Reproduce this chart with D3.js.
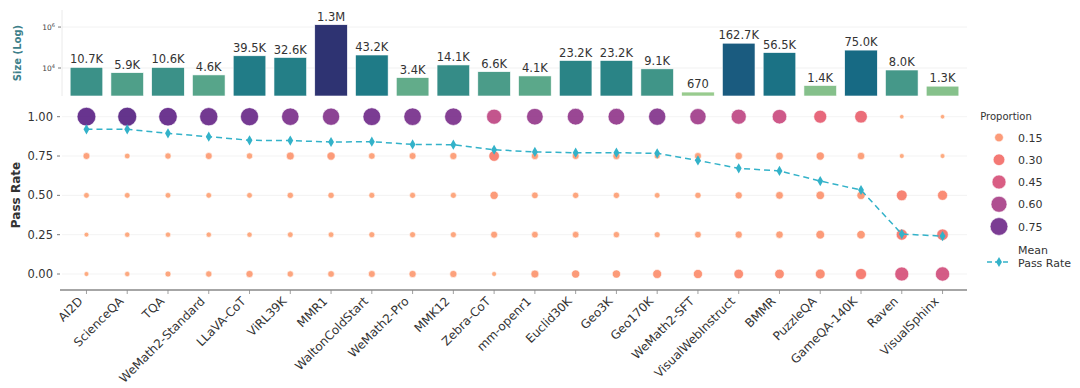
<!DOCTYPE html>
<html>
<head>
<meta charset="utf-8">
<script src="https://cdn.jsdelivr.net/npm/d3@7"></script>
<style>
  body { margin: 0; background: #fff; }
  svg { font-family: "DejaVu Sans", sans-serif; }
</style>
</head>
<body>
<svg id="chart" width="1080" height="388"></svg>
<script>
// datasets, left to right
var categories = ["AI2D", "ScienceQA", "TQA", "WeMath2-Standard", "LLaVA-CoT", "ViRL39K", "MMR1",
  "WaltonColdStart", "WeMath2-Pro", "MMK12", "Zebra-CoT", "mm-openr1", "Euclid30K", "Geo3K",
  "Geo170K", "WeMath2-SFT", "VisualWebInstruct", "BMMR", "PuzzleQA", "GameQA-140K", "Raven", "VisualSphinx"];

// dataset sizes (number of samples) and their printed labels
var sizes = [10700, 5900, 10600, 4600, 39500, 32600, 1300000, 43200, 3400, 14100, 6600, 4100,
  23200, 23200, 9100, 670, 162700, 56500, 1400, 75000, 8000, 1300];
var sizeLabels = ["10.7K", "5.9K", "10.6K", "4.6K", "39.5K", "32.6K", "1.3M", "43.2K", "3.4K", "14.1K",
  "6.6K", "4.1K", "23.2K", "23.2K", "9.1K", "670", "162.7K", "56.5K", "1.4K", "75.0K", "8.0K", "1.3K"];

// pass rate levels and the proportion of samples at each level, per dataset
var passLevels = [0, 0.25, 0.5, 0.75, 1.0];
var propAt0   = [0.02, 0.03, 0.05, 0.06, 0.09, 0.06, 0.07, 0.08, 0.09, 0.09, 0.02, 0.12, 0.13, 0.13, 0.16, 0.17, 0.19, 0.19, 0.20, 0.27, 0.45, 0.47];
var propAt25  = [0.02, 0.03, 0.03, 0.03, 0.03, 0.04, 0.04, 0.05, 0.05, 0.05, 0.08, 0.07, 0.07, 0.06, 0.05, 0.07, 0.09, 0.10, 0.15, 0.14, 0.27, 0.29];
var propAt50  = [0.04, 0.04, 0.04, 0.04, 0.04, 0.06, 0.06, 0.05, 0.05, 0.05, 0.13, 0.07, 0.06, 0.06, 0.04, 0.06, 0.09, 0.11, 0.14, 0.13, 0.25, 0.21];
var propAt75  = [0.08, 0.04, 0.06, 0.08, 0.06, 0.12, 0.13, 0.07, 0.08, 0.09, 0.24, 0.09, 0.08, 0.09, 0.05, 0.08, 0.10, 0.11, 0.13, 0.10, 0.02, 0.02];
var propAt100 = [0.84, 0.86, 0.82, 0.79, 0.78, 0.72, 0.70, 0.75, 0.73, 0.72, 0.53, 0.65, 0.66, 0.66, 0.70, 0.62, 0.53, 0.49, 0.38, 0.36, 0.01, 0.01];

// mean pass rate per dataset
var meanPass = [0.920, 0.920, 0.894, 0.873, 0.850, 0.848, 0.839, 0.841, 0.824, 0.822, 0.790, 0.776,
  0.771, 0.771, 0.767, 0.722, 0.672, 0.655, 0.591, 0.534, 0.254, 0.241];

var legendProps = [0.15, 0.30, 0.45, 0.60, 0.75];
var yTicksPass = [0, 0.25, 0.5, 0.75, 1.0];

var svg = d3.select("#chart");
var left = 62, right = 967;

var x = d3.scaleBand().domain(categories).range([left, right]).padding(0.2);
var cx = function(d) { return x(d) + x.bandwidth() / 2; };

// ---------- top panel: dataset size (log) ----------
var ySize = d3.scaleLog().domain([430, 6.8e6]).range([96, 10]);
var sizeNorm = d3.scaleLinear()
  .domain([Math.log10(d3.min(sizes)), Math.log10(d3.max(sizes))]).range([0, 1]);
var crest = d3.scaleLinear()
  .domain([0, 0.1, 0.25, 0.37, 0.47, 0.55, 0.62, 0.72, 1])
  .range(["#98cb8e", "#84c08b", "#58a68a", "#3a9088", "#2a8486", "#1f7b87", "#176a84", "#1a5c7f", "#2e3372"]);

var gTop = svg.append("g");
gTop.selectAll(".grid").data([1e4, 1e6]).enter().append("line")
  .attr("x1", left).attr("x2", right)
  .attr("y1", function(d) { return ySize(d); }).attr("y2", function(d) { return ySize(d); })
  .attr("stroke", "#eeeeee").attr("stroke-width", 0.8);

gTop.selectAll("rect").data(categories).enter().append("rect")
  .attr("x", function(d) { return x(d); })
  .attr("width", x.bandwidth())
  .attr("y", function(d, i) { return ySize(sizes[i]); })
  .attr("height", function(d, i) { return ySize.range()[0] - ySize(sizes[i]); })
  .attr("fill", function(d, i) { return crest(sizeNorm(Math.log10(sizes[i]))); })
  .attr("stroke", "#ffffff").attr("stroke-width", 0.6);

gTop.selectAll(".blab").data(categories).enter().append("text")
  .attr("x", cx)
  .attr("y", function(d, i) { return ySize(sizes[i]) - 4; })
  .attr("text-anchor", "middle").attr("font-size", 11.5).attr("fill", "#333")
  .text(function(d, i) { return sizeLabels[i]; });

gTop.append("line").attr("x1", left).attr("x2", left).attr("y1", 10).attr("y2", 96)
  .attr("stroke", "#e4e4e4").attr("stroke-width", 0.8);
[4, 6].forEach(function(p) {
  var yy = ySize(Math.pow(10, p));
  gTop.append("line").attr("x1", left - 4).attr("x2", left - 1).attr("y1", yy).attr("y2", yy)
    .attr("stroke", "#555").attr("stroke-width", 0.8);
  var t = gTop.append("text").attr("x", left - 7).attr("y", yy + 3)
    .attr("text-anchor", "end").attr("font-size", 7.5).attr("fill", "#444");
  t.append("tspan").text("10");
  t.append("tspan").attr("dy", -3.5).attr("font-size", 5).text(p);
});
gTop.append("text").attr("transform", "translate(21,53) rotate(-90)")
  .attr("text-anchor", "middle").attr("font-size", 10).attr("font-weight", "bold")
  .attr("fill", "#3d7f8a").text("Size (Log)");

// ---------- bottom panel: pass rate distribution ----------
var yPass = d3.scaleLinear().domain([0, 1]).range([274, 116.7]);
var rScale = function(p) { return Math.sqrt(4 + 100 * p); };
var magmaPos = d3.scaleLinear()
  .domain([0, 0.15, 0.30, 0.45, 0.60, 0.75, 0.9])
  .range([0.80, 0.75, 0.67, 0.57, 0.45, 0.30, 0.21]).clamp(true);
var pColor = function(p) { return d3.interpolateMagma(magmaPos(p)); };

var gBot = svg.append("g");
gBot.selectAll(".pgrid").data(yTicksPass).enter().append("line")
  .attr("x1", left).attr("x2", right)
  .attr("y1", function(d) { return yPass(d); }).attr("y2", function(d) { return yPass(d); })
  .attr("stroke", "#f0f0f0").attr("stroke-width", 0.8);

var propRows = [propAt0, propAt25, propAt50, propAt75, propAt100];
var points = [];
categories.forEach(function(c, i) {
  passLevels.forEach(function(lv, j) {
    points.push({ cat: c, level: lv, prop: propRows[j][i] });
  });
});
gBot.selectAll("circle").data(points).enter().append("circle")
  .attr("cx", function(d) { return cx(d.cat); })
  .attr("cy", function(d) { return yPass(d.level); })
  .attr("r", function(d) { return rScale(d.prop); })
  .attr("fill", function(d) { return pColor(d.prop); })
  .attr("fill-opacity", 0.85)
  .attr("stroke", "#ffffff").attr("stroke-width", 0.6);

var lineColor = "#33b2c9";
var line = d3.line().x(function(d) { return cx(d); }).y(function(d, i) { return yPass(meanPass[i]); });
gBot.append("path").datum(categories).attr("d", line)
  .attr("fill", "none").attr("stroke", lineColor).attr("stroke-width", 1.5)
  .attr("stroke-dasharray", "6,4");
var diamond = d3.symbol().type(d3.symbolDiamond).size(30);
gBot.selectAll(".mk").data(categories).enter().append("path")
  .attr("d", diamond)
  .attr("transform", function(d, i) { return "translate(" + cx(d) + "," + yPass(meanPass[i]) + ")"; })
  .attr("fill", lineColor);

// y axis
gBot.selectAll(".ytl").data(yTicksPass).enter().append("text")
  .attr("x", left - 9).attr("y", function(d) { return yPass(d) + 4; })
  .attr("text-anchor", "end").attr("font-size", 11.5).attr("fill", "#333")
  .text(function(d) { return d.toFixed(2); });
gBot.selectAll(".ytk").data(yTicksPass).enter().append("line")
  .attr("x1", left - 5).attr("x2", left - 2)
  .attr("y1", function(d) { return yPass(d); }).attr("y2", function(d) { return yPass(d); })
  .attr("stroke", "#555").attr("stroke-width", 0.8);
gBot.append("text").attr("transform", "translate(20,195) rotate(-90)")
  .attr("text-anchor", "middle").attr("font-size", 12).attr("font-weight", "bold")
  .attr("fill", "#333").text("Pass Rate");

// x axis
var axisY = 290;
gBot.append("line").attr("x1", left - 2).attr("x2", right).attr("y1", axisY).attr("y2", axisY)
  .attr("stroke", "#888").attr("stroke-width", 1.3);
gBot.selectAll(".xtk").data(categories).enter().append("line")
  .attr("x1", cx).attr("x2", cx).attr("y1", axisY).attr("y2", axisY + 4)
  .attr("stroke", "#888").attr("stroke-width", 0.8);
gBot.selectAll(".xtl").data(categories).enter().append("text")
  .attr("transform", function(d) { return "translate(" + (cx(d) - 3) + "," + (axisY + 12) + ") rotate(-45)"; })
  .attr("text-anchor", "end").attr("font-size", 12).attr("fill", "#333")
  .text(function(d) { return d; });

// legend
var lg = svg.append("g");
lg.append("text").attr("x", 1006).attr("y", 120).attr("text-anchor", "middle")
  .attr("font-size", 10).attr("fill", "#333").text("Proportion");
var legY = d3.scaleLinear().domain([0.15, 0.75]).range([137.5, 226.5]);
legendProps.forEach(function(p) {
  lg.append("circle").attr("cx", 999).attr("cy", legY(p)).attr("r", rScale(p))
    .attr("fill", pColor(p)).attr("fill-opacity", 0.85)
    .attr("stroke", "#fff").attr("stroke-width", 0.6);
  lg.append("text").attr("x", 1018).attr("y", legY(p) + 4).attr("font-size", 11)
    .attr("fill", "#333").text(p.toFixed(2));
});
lg.append("line").attr("x1", 987).attr("x2", 1011).attr("y1", 262).attr("y2", 262)
  .attr("stroke", lineColor).attr("stroke-width", 1.5).attr("stroke-dasharray", "5,3");
lg.append("path").attr("d", diamond).attr("transform", "translate(999,262)").attr("fill", lineColor);
lg.append("text").attr("x", 1018).attr("y", 254).attr("font-size", 11).attr("fill", "#333").text("Mean");
lg.append("text").attr("x", 1018).attr("y", 267).attr("font-size", 11).attr("fill", "#333").text("Pass Rate");
</script>
</body>
</html>
